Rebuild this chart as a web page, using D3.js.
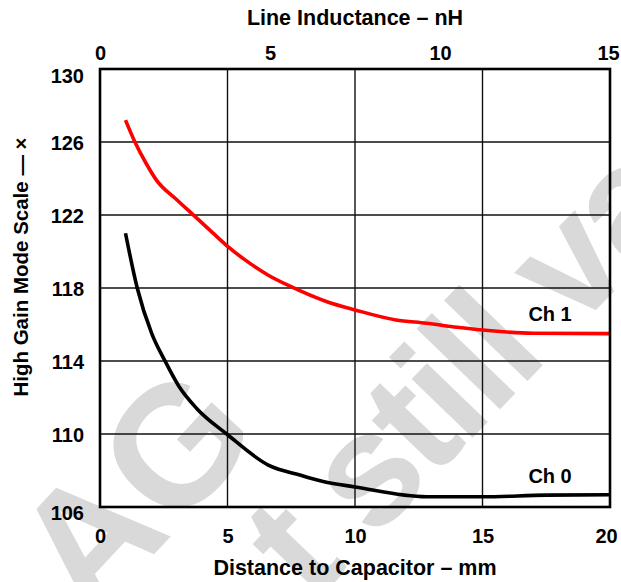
<!DOCTYPE html>
<html>
<head>
<meta charset="utf-8">
<script src="https://cdn.jsdelivr.net/npm/d3@7"></script>
<style>
  html, body { margin: 0; padding: 0; background: #fff; }
  svg { display: block; }
  text { font-family: "Liberation Sans", Arial, Helvetica, sans-serif; font-weight: bold; fill: #000; }
</style>
</head>
<body>
<svg id="chart" width="621" height="582"></svg>
<script>
// ---- data ----
const ch1X = [1.0, 1.37, 1.8, 2.22, 3.0, 3.7, 4.4, 5.03, 5.88, 6.6, 7.45, 8.9, 10.0, 11.6, 12.8, 14.0, 15.0, 17.0, 20.0];
const ch1Y = [127.2, 126.0, 124.85, 123.9, 122.85, 121.95, 121.05, 120.25, 119.35, 118.7, 118.1, 117.25, 116.8, 116.25, 116.07, 115.85, 115.7, 115.52, 115.5];
const ch0X = [1.0, 1.46, 2.03, 2.55, 3.1, 3.79, 4.97, 6.6, 7.84, 8.75, 10.0, 12.8, 15.0, 17.5, 20.0];
const ch0Y = [121.0, 118.0, 115.5, 114.0, 112.6, 111.4, 110.0, 108.3, 107.75, 107.4, 107.1, 106.56, 106.56, 106.65, 106.67];
const bottomTicks = [0, 5, 10, 15, 20];
const topTicks = [0, 5, 10, 15];
const yTicks = [106, 110, 114, 118, 122, 126, 130];
const seriesLabels = ["Ch 1", "Ch 0"];
const xTitle = "Distance to Capacitor \u2013 mm";
const topTitle = "Line Inductance \u2013 nH";
const yTitle = "High Gain Mode Scale \u2014 \u00d7";
const watermark1 = "AG";
const watermark2 = "t still va";

// ---- layout ----
const L = 100, R = 610, T = 69, B = 507;
const svg = d3.select("#chart");

const x = d3.scaleLinear().domain([0, 20]).range([L, R]);
const xTop = d3.scaleLinear().domain([0, 15]).range([L, R]);
const y = d3.scaleLinear().domain([106, 130]).range([B, T]);

// watermark (behind)
const wm = svg.append("g");
wm.append("text").attr("transform", "translate(90,623) rotate(-47)")
  .attr("font-size", 170).style("fill", "#d9d9d9").text(watermark1);
wm.append("text").attr("transform", "translate(312,604) rotate(-46)")
  .attr("font-size", 160).attr("letter-spacing", -5).style("fill", "#d9d9d9").text(watermark2);

// grid
const grid = svg.append("g");
grid.selectAll("line.v").data(bottomTicks.slice(1, -1)).join("line")
  .attr("x1", d => x(d)).attr("x2", d => x(d)).attr("y1", T).attr("y2", B)
  .attr("stroke", "#111").attr("stroke-width", 1.4);
grid.selectAll("line.h").data(yTicks.slice(1, -1)).join("line")
  .attr("x1", L).attr("x2", R).attr("y1", d => y(d)).attr("y2", d => y(d))
  .attr("stroke", "#111").attr("stroke-width", 1.4);

// curves
const line = d3.line().x(d => x(d[0])).y(d => y(d[1])).curve(d3.curveMonotoneX);
svg.append("path").datum(ch1X.map((v, i) => [v, ch1Y[i]]))
  .attr("d", line).attr("fill", "none").attr("stroke", "#ff0000").attr("stroke-width", 3.6);
svg.append("path").datum(ch0X.map((v, i) => [v, ch0Y[i]]))
  .attr("d", line).attr("fill", "none").attr("stroke", "#000").attr("stroke-width", 3.6);

// frame
svg.append("rect").attr("x", L).attr("y", T).attr("width", R - L).attr("height", B - T)
  .attr("fill", "none").attr("stroke", "#000").attr("stroke-width", 2.6);

// axes
const fs = 20;
const bx = svg.append("g").attr("transform", `translate(0,${B})`)
  .call(d3.axisBottom(x).tickValues(bottomTicks).tickSize(0).tickFormat(d3.format("d")));
bx.select(".domain").remove();
bx.selectAll("text").attr("y", 36).attr("dy", 0).attr("font-size", fs)
  .attr("dx", d => d === 20 ? -4 : 0);

const tx = svg.append("g").attr("transform", `translate(0,${T})`)
  .call(d3.axisTop(xTop).tickValues(topTicks).tickSize(0).tickFormat(d3.format("d")));
tx.select(".domain").remove();
tx.selectAll("text").attr("y", -9).attr("dy", 0).attr("font-size", fs)
  .attr("dx", d => d === 15 ? -2 : 0);

const ly = svg.append("g").attr("transform", `translate(${L},0)`)
  .call(d3.axisLeft(y).tickValues(yTicks).tickSize(0).tickFormat(d3.format("d")));
ly.select(".domain").remove();
ly.selectAll("text").attr("x", -16).attr("font-size", fs)
  .attr("dy", d => d === 130 ? "0.65em" : d === 106 ? "0.6em" : "0.35em");
svg.selectAll(".tick text").style("font-family", "'Liberation Sans', Arial, sans-serif").style("font-weight", "bold").attr("fill", "#000");

// titles
svg.append("text").attr("x", (L + R) / 2).attr("y", 25).attr("text-anchor", "middle")
  .attr("font-size", 21.5).text(topTitle);
svg.append("text").attr("x", (L + R) / 2).attr("y", 575).attr("text-anchor", "middle")
  .attr("font-size", 21.5).text(xTitle);
svg.append("text").attr("transform", "translate(28,267) rotate(-90)").attr("text-anchor", "middle")
  .attr("font-size", 20.5).text(yTitle);

// series labels
svg.append("text").attr("x", x(17.65)).attr("y", y(116.19)).attr("text-anchor", "middle")
  .attr("font-size", 20).text(seriesLabels[0]);
svg.append("text").attr("x", x(17.65)).attr("y", y(107.32)).attr("text-anchor", "middle")
  .attr("font-size", 20).text(seriesLabels[1]);
</script>
</body>
</html>
